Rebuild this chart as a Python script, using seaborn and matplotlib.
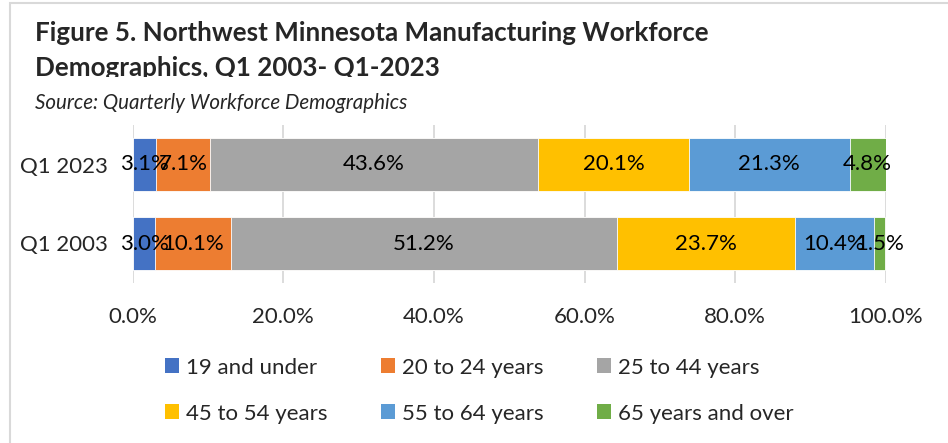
import pandas as pd
import seaborn as sns
import matplotlib.pyplot as plt
from matplotlib.patches import Rectangle, Patch
from matplotlib.ticker import FuncFormatter

quarters = ["Q1 2023", "Q1 2003"]
age_groups = ["19 and under", "20 to 24 years", "25 to 44 years",
	"45 to 54 years", "55 to 64 years", "65 years and over"]
share_2023 = [3.1, 7.1, 43.6, 20.1, 21.3, 4.8]
share_2003 = [3.0, 10.1, 51.2, 23.7, 10.4, 1.5]

colors = ["#4472C4", "#ED7D31", "#A5A5A5", "#FFC000", "#5B9BD5", "#70AD47"]

FONT = "Lato"

rows = []
for quarter, shares in zip(quarters, [share_2023, share_2003]):
	cum = 0
	for group, v in zip(age_groups, shares):
		cum += v
		rows.append({"quarter": quarter, "group": group, "share": v, "cum": cum})
df = pd.DataFrame(rows)

sns.set_theme(style="white")
plt.rcParams["font.family"] = [FONT, "DejaVu Sans"]

fig = plt.figure(figsize=(9.48, 4.43), dpi=100)
ax = fig.add_axes([132.7 / 948, 1 - 283 / 443, 753 / 948, 158 / 443])

# stacked bars: draw cumulative totals from the last group backwards
for group, color in reversed(list(zip(age_groups, colors))):
	sub = df[df["group"] == group]
	sns.barplot(data=sub, x="cum", y="quarter", order=quarters, color=color,
		width=0.667, edgecolor="white", linewidth=0.6, saturation=1, ax=ax, zorder=2)

for i, quarter in enumerate(quarters):
	sub = df[df["quarter"] == quarter]
	for _, row in sub.iterrows():
		ax.text(row["cum"] - row["share"] / 2, i, "{:.1f}%".format(row["share"]),
			ha="center", va="center", fontsize=16, color="black", zorder=5)

ax.set_xlim(0, 100)
ax.set_xticks([0, 20, 40, 60, 80, 100])
ax.xaxis.set_major_formatter(FuncFormatter(lambda v, p: "{:.1f}%".format(v)))
ax.set_xlabel("")
ax.set_ylabel("")
ax.tick_params(axis="x", length=0, pad=17, labelsize=16)
ax.tick_params(axis="y", length=0, pad=18, labelsize=16)
for s in ax.spines.values():
	s.set_visible(False)
ax.xaxis.grid(True, color="#D9D9D9", linewidth=1.3, zorder=0)
ax.set_axisbelow(True)

# legend: one small legend per column so the columns sit where Excel put them
handles = [Patch(facecolor=c, edgecolor="none") for c in colors]
col_x = [165, 381, 597]
for c in range(3):
	leg = fig.legend([handles[c], handles[c + 3]], [age_groups[c], age_groups[c + 3]],
		loc="center left", bbox_to_anchor=(col_x[c] / 948, 1 - 390.5 / 443),
		frameon=False, fontsize=16, handlelength=0.63, handleheight=0.63,
		handletextpad=0.3, labelspacing=1.17, borderpad=0, borderaxespad=0)

fig.text(35 / 948, 1 - 33 / 443, "Figure 5. Northwest Minnesota Manufacturing Workforce",
	fontsize=18.7, fontweight="bold", ha="left", va="center")
fig.text(35 / 948, 1 - 68 / 443, "Demographics, Q1 2003- Q1-2023",
	fontsize=18.7, fontweight="bold", ha="left", va="center")
# the second title line is cut off at the bottom in the original
fig.patches.append(Rectangle((20 / 948, 1 - 90 / 443), 0.9, 13 / 443,
	transform=fig.transFigure, facecolor="white", edgecolor="none", zorder=10))
fig.text(35 / 948, 1 - 103 / 443, "Source: Quarterly Workforce Demographics",
	fontsize=14.8, fontstyle="italic", ha="left", va="center")

fig.patches.append(Rectangle((10 / 948, -0.1), 1.5, 1.1 - 3 / 443,
	transform=fig.transFigure, facecolor="none", edgecolor="#D9D9D9", linewidth=1.5, zorder=11))

fig.savefig("out.png", dpi=100)
